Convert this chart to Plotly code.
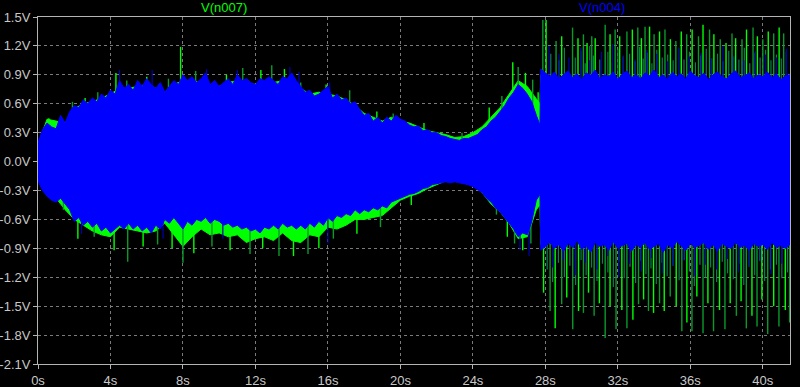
import plotly.graph_objects as go

# ---------------- data ----------------
# sample times (s): 0.25 s steps before the step change at ~27.7 s and after it
t_before = [i * 0.25 for i in range(111)] + [27.7]          # 0 .. 27.5, 27.7
t_after = [27.75 + i * 0.25 for i in range(56)]             # 27.75 .. 41.5
T = t_before + t_after

# V(n004) (blue) envelope, upper edge
n004_upper = [0.20, 0.33, 0.40, 0.36, 0.34, 0.48, 0.40, 0.52, 0.58, 0.56, 0.64, 0.60,
              0.66, 0.62, 0.70, 0.66, 0.74, 0.70, 0.84, 0.76, 0.80, 0.74, 0.84, 0.78,
              0.86, 0.80, 0.76, 0.82, 0.72, 0.78, 0.84, 0.80, 0.90, 0.84, 0.88, 0.82,
              0.86, 0.92, 0.80, 0.84, 0.78, 0.82, 0.86, 0.80, 0.90, 0.84, 0.86, 0.82,
              0.80, 0.86, 0.84, 0.88, 0.84, 0.80, 0.88, 0.86, 0.92, 0.84, 0.78, 0.72,
              0.74, 0.68, 0.70, 0.74, 0.78, 0.66, 0.70, 0.64, 0.66, 0.60, 0.62, 0.54,
              0.48, 0.50, 0.42, 0.46, 0.40, 0.46, 0.42, 0.48, 0.44, 0.42, 0.38, 0.36,
              0.37, 0.32, 0.33, 0.30, 0.30, 0.27, 0.26, 0.24, 0.23, 0.22, 0.24, 0.24,
              0.26, 0.28, 0.33, 0.36, 0.42, 0.46, 0.52, 0.58, 0.66, 0.72, 0.80, 0.76,
              0.70, 0.62, 0.48, 0.38,
              0.96, 0.92, 0.88, 0.93, 0.86, 0.90, 0.94, 0.87, 0.91, 0.85, 0.92, 0.89,
              0.95, 0.86, 0.90, 0.88, 0.93, 0.85, 0.91, 0.94, 0.87, 0.90, 0.86, 0.92,
              0.89, 0.95, 0.87, 0.90, 0.85, 0.93, 0.88, 0.91, 0.86, 0.94, 0.89, 0.87,
              0.92, 0.85, 0.90, 0.93, 0.88, 0.86, 0.91, 0.94, 0.87, 0.89, 0.92, 0.86,
              0.90, 0.88, 0.93, 0.87, 0.91, 0.85, 0.89, 0.90]
# V(n004) (blue) envelope, lower edge
n004_lower = [-0.20, -0.30, -0.36, -0.40, -0.42, -0.38, -0.44, -0.50, -0.62, -0.58,
              -0.66, -0.62, -0.68, -0.64, -0.72, -0.68, -0.74, -0.70, -0.66, -0.70,
              -0.64, -0.70, -0.66, -0.72, -0.68, -0.74, -0.66, -0.70, -0.60, -0.64,
              -0.58, -0.64, -0.70, -0.62, -0.66, -0.60, -0.62, -0.58, -0.64, -0.60,
              -0.62, -0.66, -0.64, -0.68, -0.66, -0.70, -0.68, -0.72, -0.70, -0.74,
              -0.68, -0.70, -0.66, -0.70, -0.64, -0.68, -0.66, -0.70, -0.66, -0.70,
              -0.64, -0.68, -0.62, -0.66, -0.58, -0.62, -0.56, -0.58, -0.54, -0.56,
              -0.50, -0.54, -0.50, -0.52, -0.48, -0.50, -0.46, -0.48, -0.42, -0.40,
              -0.38, -0.36, -0.34, -0.33, -0.31, -0.28, -0.27, -0.24, -0.23, -0.22,
              -0.21, -0.22, -0.21, -0.22, -0.23, -0.24, -0.26, -0.29, -0.32, -0.38,
              -0.42, -0.48, -0.52, -0.58, -0.64, -0.70, -0.78, -0.74, -0.76, -0.62,
              -0.40, -0.34,
              -0.92, -0.88, -0.84, -0.90, -0.86, -0.93, -0.85, -0.89, -0.82, -0.91,
              -0.87, -0.94, -0.84, -0.88, -0.86, -0.92, -0.83, -0.90, -0.87, -0.85,
              -0.93, -0.86, -0.89, -0.84, -0.91, -0.88, -0.85, -0.94, -0.86, -0.90,
              -0.83, -0.88, -0.92, -0.85, -0.89, -0.87, -0.84, -0.91, -0.86, -0.93,
              -0.85, -0.88, -0.90, -0.84, -0.89, -0.87, -0.92, -0.85, -0.88, -0.86,
              -0.91, -0.84, -0.89, -0.87, -0.90, -0.86]

# V(n007) (green) envelope on a 0.5 s grid
TG = [i * 0.5 for i in range(56)] + [27.7] + [27.75 + i * 0.5 for i in range(28)]
n007_upper = [0.18, 0.44, 0.42, 0.40, 0.55, 0.60, 0.62, 0.66, 0.70, 0.76, 0.76, 0.78,
              0.80, 0.76, 0.72, 0.80, 0.84, 0.84, 0.82, 0.80, 0.78, 0.82, 0.84, 0.82,
              0.80, 0.82, 0.82, 0.84, 0.86, 0.76, 0.70, 0.72, 0.70, 0.68, 0.64, 0.58,
              0.50, 0.46, 0.42, 0.46, 0.42, 0.40, 0.36, 0.32, 0.30, 0.28, 0.25, 0.26,
              0.30, 0.36, 0.46, 0.56, 0.70, 0.84, 0.78, 0.66, 0.60,
              0.90, 0.86, 0.84, 0.85, 0.84, 0.83, 0.85, 0.84, 0.84, 0.83, 0.85, 0.84,
              0.83, 0.85, 0.84, 0.84, 0.83, 0.85, 0.84, 0.83, 0.85, 0.84, 0.83, 0.84,
              0.85, 0.83, 0.84, 0.84]
n007_lower = [-0.18, -0.34, -0.38, -0.50, -0.60, -0.66, -0.72, -0.76, -0.78, -0.68,
              -0.70, -0.72, -0.74, -0.72, -0.64, -0.76, -0.88, -0.78, -0.70, -0.76,
              -0.74, -0.78, -0.76, -0.84, -0.80, -0.78, -0.82, -0.74, -0.82, -0.84,
              -0.76, -0.78, -0.68, -0.70, -0.66, -0.60, -0.60, -0.58, -0.56, -0.48,
              -0.40, -0.36, -0.33, -0.28, -0.24, -0.20, -0.19, -0.20, -0.24, -0.32,
              -0.44, -0.52, -0.64, -0.80, -0.78, -0.50, -0.45,
              -0.86, -0.82, -0.80, -0.81, -0.80, -0.79, -0.81, -0.80, -0.80, -0.79,
              -0.81, -0.80, -0.79, -0.81, -0.80, -0.80, -0.79, -0.81, -0.80, -0.79,
              -0.81, -0.80, -0.79, -0.80, -0.81, -0.79, -0.80, -0.80]

# V(n007) peaks (time s, volts)
n007_peak_t = [0.6, 1.9, 2.6, 3.3, 4.3, 4.9, 6.0, 7.2, 7.87, 8.7, 10.4, 11.3, 12.3,
               12.9, 13.6, 14.5, 15.9, 17.2, 18.7, 19.6, 21.3, 23.4, 24.9, 25.6, 26.2,
               26.5, 26.9, 27.3, 27.6,
               27.86, 28.04, 28.59, 28.9, 29.5, 29.8, 30.1, 30.3, 30.56, 30.75, 31.3,
               31.57, 31.85, 32.1, 32.5, 32.8, 33.1, 33.3, 33.5, 33.75, 34.0, 34.3,
               34.6, 34.9, 35.2, 35.5, 35.8, 36.1, 36.45, 36.7, 37.06, 37.3, 37.65,
               37.97, 38.3, 38.5, 38.85, 39.1, 39.46, 39.7, 40.0, 40.3, 40.6, 40.9, 41.15]
n007_peak_v = [0.45, 0.62, 0.66, 0.72, 0.92, 0.84, 0.88, 0.86, 1.19, 0.94, 0.90, 0.97,
               0.95, 1.00, 0.96, 0.82, 0.80, 0.74, 0.52, 0.50, 0.40, 0.30, 0.56, 0.68,
               1.03, 0.98, 0.92, 0.85, 0.72,
               1.47, 1.47, 1.25, 1.30, 1.39, 1.28, 1.32, 1.23, 1.30, 1.28, 1.42, 1.32,
               1.37, 1.30, 1.35, 1.37, 1.39, 1.28, 1.40, 1.40, 1.32, 1.35, 1.37, 1.27,
               1.25, 1.35, 1.32, 1.37, 1.30, 1.42, 1.37, 1.32, 1.27, 1.23, 1.33, 1.28,
               1.27, 1.37, 1.39, 1.30, 1.27, 1.35, 1.33, 1.39, 1.33]
# V(n007) troughs (time s, volts)
n007_trough_t = [1.4, 2.2, 3.1, 4.2, 4.95, 5.8, 6.6, 7.4, 8.0, 8.6, 9.6, 10.6, 11.7,
                 12.4, 13.3, 14.1, 14.9, 15.5, 16.3, 17.6, 18.9, 20.6, 25.3, 25.9,
                 26.3, 26.75, 27.2,
                 27.9, 28.26, 28.54, 28.9, 29.18, 29.51, 29.83, 30.1, 30.38, 30.69,
                 30.98, 31.3, 31.57, 31.9, 32.22, 32.5, 32.83, 33.14, 33.42, 33.69,
                 33.97, 34.3, 34.56, 34.89, 35.22, 35.53, 35.81, 36.09, 36.36, 36.7,
                 36.97, 37.28, 37.61, 37.91, 38.2, 38.54, 38.8, 39.09, 39.4, 39.68,
                 39.95, 40.27, 40.6, 40.89, 41.24, 41.48]
n007_trough_v = [-0.50, -0.80, -0.78, -0.92, -1.04, -0.88, -0.86, -0.90, -1.05, -0.95,
                 -0.88, -0.92, -0.96, -0.90, -0.98, -0.98, -0.96, -0.90, -0.80, -0.75,
                 -0.68, -0.45, -0.55, -0.78, -0.85, -0.92, -0.85,
                 -1.36, -1.55, -1.73, -1.48, -1.41, -1.74, -1.55, -1.57, -1.36, -1.60,
                 -1.47, -1.83, -1.50, -1.74, -1.54, -1.73, -1.64, -1.48, -1.43, -1.55,
                 -1.57, -1.47, -1.55, -1.40, -1.50, -1.76, -1.67, -1.76, -1.40, -1.78,
                 -1.47, -1.76, -1.54, -1.74, -1.47, -1.60, -1.45, -1.73, -1.60, -1.71,
                 -1.43, -1.79, -1.50, -1.71, -1.54, -1.67]

# V(n007) shorter excursions after the step (fringe just outside the solid band)
n007_short_peak_t = [28.3, 28.75, 29.05, 29.65, 29.95, 30.2, 30.45, 30.65, 31.0, 31.45,
                     31.7, 32.0, 32.3, 32.65, 32.95, 33.2, 33.4, 33.62, 33.88, 34.15,
                     34.45, 34.75, 35.05, 35.35, 35.65, 35.95, 36.28, 36.58, 36.88,
                     37.18, 37.5, 37.8, 38.12, 38.4, 38.68, 38.98, 39.28, 39.58, 39.85,
                     40.15, 40.45, 40.75, 41.02, 41.3]
n007_short_peak_v = [1.12, 1.05, 1.18, 1.08, 1.15, 1.02, 1.20, 1.10, 1.06, 1.14, 1.03,
                     1.17, 1.09, 1.12, 1.04, 1.19, 1.07, 1.13, 1.02, 1.16, 1.08, 1.11,
                     1.05, 1.18, 1.06, 1.14, 1.03, 1.10, 1.17, 1.07, 1.12, 1.04, 1.15,
                     1.09, 1.06, 1.18, 1.02, 1.13, 1.08, 1.16, 1.05, 1.11, 1.07, 1.14]
n007_short_trough_t = [28.1, 28.4, 28.72, 29.05, 29.35, 29.67, 29.97, 30.25, 30.55,
                       30.85, 31.15, 31.45, 31.75, 32.05, 32.35, 32.67, 32.98, 33.28,
                       33.55, 33.83, 34.12, 34.43, 34.72, 35.05, 35.38, 35.67, 35.95,
                       36.22, 36.53, 36.83, 37.12, 37.45, 37.76, 38.05, 38.37, 38.67,
                       38.95, 39.25, 39.55, 39.82, 40.1, 40.42, 40.75, 41.05, 41.36]
n007_short_trough_v = [-1.12, -1.25, -1.05, -1.20, -1.08, -1.28, -1.02, -1.18, -1.10,
                       -1.24, -1.06, -1.15, -1.30, -1.04, -1.21, -1.09, -1.26, -1.03,
                       -1.17, -1.11, -1.27, -1.05, -1.19, -1.08, -1.23, -1.02, -1.14,
                       -1.29, -1.07, -1.20, -1.10, -1.25, -1.04, -1.16, -1.22, -1.06,
                       -1.28, -1.09, -1.18, -1.03, -1.24, -1.12, -1.07, -1.21, -1.15]

# V(n004) peaks / troughs beyond the solid band
n004_peak_t = [4.5, 6.3, 9.3, 11.0, 13.9, 14.4, 16.1,
               28.2, 28.75, 29.3, 29.95, 30.45, 31.1, 31.7, 32.3, 32.95, 33.6, 34.15,
               34.75, 35.35, 35.95, 36.6, 37.15, 37.8, 38.4, 38.95, 39.6, 40.15, 40.75,
               41.3]
n004_peak_v = [0.95, 0.95, 0.96, 0.95, 0.98, 0.93, 0.82,
               1.20, 1.12, 1.08, 1.18, 1.05, 1.14, 1.22, 1.10, 1.06, 1.16, 1.12, 1.04,
               1.18, 1.09, 1.13, 1.07, 1.20, 1.10, 1.05, 1.15, 1.11, 1.08, 1.17]
n004_trough_t = [2.4, 6.9, 10.2, 16.0, 26.6, 27.1,
                 28.4, 29.0, 29.65, 30.2, 30.85, 31.45, 32.05, 32.65, 33.3, 33.85,
                 34.45, 35.05, 35.65, 36.25, 36.85, 37.45, 38.05, 38.65, 39.25, 39.85,
                 40.45, 41.05]
n004_trough_v = [-0.75, -0.80, -0.80, -0.85, -0.92, -0.98,
                 -1.10, -1.02, -1.18, -1.05, -1.12, -0.98, -1.20, -1.06, -1.14, -1.00,
                 -1.16, -1.08, -1.03, -1.19, -1.07, -1.12, -1.01, -1.15, -1.09, -1.04,
                 -1.17, -1.06]

x_ticks = [0, 4, 8, 12, 16, 20, 24, 28, 32, 36, 40]
x_tick_text = ["0s", "4s", "8s", "12s", "16s", "20s", "24s", "28s", "32s", "36s", "40s"]
y_ticks = [1.5, 1.2, 0.9, 0.6, 0.3, 0.0, -0.3, -0.6, -0.9, -1.2, -1.5, -1.8, -2.1]
y_tick_text = ["1.5V", "1.2V", "0.9V", "0.6V", "0.3V", "0.0V", "-0.3V", "-0.6V",
               "-0.9V", "-1.2V", "-1.5V", "-1.8V", "-2.1V"]
series_names = ["V(n007)", "V(n004)"]

# ---------------- styling ----------------
GREEN = "#00ff00"
GREEN_DIM = "#0a9a2a"
GREEN_MIX = "#137a55"
BLUE = "#0000ff"
BLUE_DIM = "#0000b4"
FONT = "Liberation Sans, Arial, sans-serif"


def band(t, up, lo, color):
    return go.Scatter(x=list(t) + list(t)[::-1], y=list(up) + list(lo)[::-1],
                      fill="toself", fillcolor=color, mode="lines",
                      line=dict(color=color, width=1), hoverinfo="skip",
                      showlegend=False)


def spikes(ts, vs, color, width=1.4):
    xs, ys = [], []
    for t, v in zip(ts, vs):
        xs += [t, t, None]
        ys += [0, v, None]
    return go.Scatter(x=xs, y=ys, mode="lines", line=dict(color=color, width=width),
                      hoverinfo="skip", showlegend=False)


fig = go.Figure()
# V(n007) underneath
fig.add_trace(band(TG, n007_upper, n007_lower, GREEN))
fig.add_trace(spikes(n007_short_peak_t, n007_short_peak_v, GREEN_MIX, 1.2))
fig.add_trace(spikes(n007_short_trough_t, n007_short_trough_v, GREEN_MIX, 1.2))
fig.add_trace(spikes(n007_peak_t[0::2], n007_peak_v[0::2], GREEN))
fig.add_trace(spikes(n007_peak_t[1::2], n007_peak_v[1::2], GREEN_DIM))
fig.add_trace(spikes(n007_trough_t[0::2], n007_trough_v[0::2], GREEN_DIM))
fig.add_trace(spikes(n007_trough_t[1::2], n007_trough_v[1::2], GREEN))
# V(n004) on top
fig.add_trace(spikes(n004_peak_t, n004_peak_v, BLUE_DIM, 1.2))
fig.add_trace(spikes(n004_trough_t, n004_trough_v, BLUE_DIM, 1.2))
fig.add_trace(band(T, n004_upper, n004_lower, BLUE))

axis_common = dict(showgrid=True, gridcolor="#7a7a7a", griddash="3px,3px", gridwidth=1,
                   showline=True, linecolor="#b4b4b4", linewidth=1, mirror=True,
                   ticks="outside", ticklen=4, tickcolor="#b4b4b4", zeroline=False,
                   automargin=False,
                   tickfont=dict(family=FONT, size=13, color="#c8c8c8"))

fig.update_layout(
    width=800, height=387,
    margin=dict(l=38, r=10, t=17, b=23),
    paper_bgcolor="#000000", plot_bgcolor="#000000",
    showlegend=False,
    xaxis=dict(range=[0, 41.5], tickvals=x_ticks, ticktext=x_tick_text, **axis_common),
    yaxis=dict(range=[-2.1, 1.5], tickvals=y_ticks, ticktext=y_tick_text, **axis_common),
    annotations=[
        dict(text=series_names[0], x=10.25, xref="x", y=1.026, yref="paper",
             showarrow=False, yanchor="middle",
             font=dict(family=FONT, size=13, color=GREEN)),
        dict(text=series_names[1], x=31.1, xref="x", y=1.026, yref="paper",
             showarrow=False, yanchor="middle",
             font=dict(family=FONT, size=13, color=BLUE)),
    ],
)

fig.write_html("out.html")
